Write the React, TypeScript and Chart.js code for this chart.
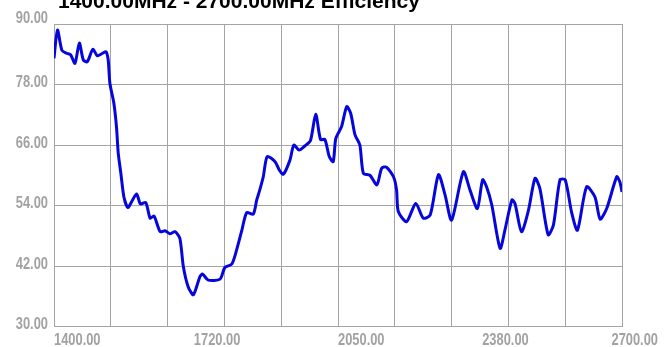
import React, { useEffect, useRef } from "react";
import { Chart, registerables } from "chart.js";

Chart.register(...registerables);

const TITLE = "1400.00MHz - 2700.00MHz Efficiency";

const freqs: number[] = [
  1400, 1408, 1418, 1429, 1438, 1448, 1458, 1467, 1476, 1489, 1499, 1511, 1519, 1524, 1528,
  1537, 1543, 1547, 1553, 1560, 1569, 1578, 1589, 1598, 1610, 1620, 1629, 1643, 1654, 1665,
  1677, 1688, 1696, 1707, 1719, 1734, 1740, 1753, 1780, 1791, 1807, 1818, 1830, 1841, 1856,
  1864, 1871, 1879, 1888, 1906, 1916, 1925, 1940, 1949, 1961, 1974, 1987, 1999, 2010, 2020,
  2030, 2039, 2045, 2058, 2070, 2079, 2089, 2100, 2108, 2123, 2139, 2150, 2161, 2177, 2184,
  2188, 2207, 2228, 2245, 2261, 2280, 2295, 2310, 2337, 2352, 2369, 2381, 2390, 2402, 2421,
  2432, 2448, 2455, 2470, 2486, 2501, 2512, 2531, 2543, 2558, 2570, 2585, 2598, 2619, 2638,
  2650, 2665, 2688, 2695, 2700,
];

const efficiency: number[] = [
  83.2, 88.8, 84.8, 84.2, 83.9, 82.2, 86.2, 82.9, 82.5, 85.0, 83.7, 84.2, 84.5, 82.9, 78.2,
  74.3, 69.6, 64.4, 60.4, 55.7, 53.6, 54.8, 56.3, 54.3, 54.6, 51.5, 51.9, 48.8, 49.0, 48.4,
  48.8, 47.5, 41.9, 37.9, 36.3, 39.9, 40.4, 39.2, 39.4, 41.7, 42.4, 45.2, 49.1, 52.6, 52.3,
  55.1, 57.1, 59.7, 63.7, 62.7, 61.0, 60.2, 63.0, 66.0, 65.0, 65.8, 66.9, 72.1, 67.1, 67.1,
  63.7, 62.7, 67.3, 69.6, 73.6, 72.3, 68.0, 66.0, 60.4, 60.0, 58.1, 61.4, 61.6, 59.7, 57.1,
  52.8, 50.8, 54.4, 51.5, 52.1, 60.1, 56.1, 51.1, 60.7, 57.1, 53.4, 59.1, 57.7, 54.1, 45.5,
  49.1, 55.1, 54.4, 48.8, 53.1, 59.4, 57.4, 48.2, 50.1, 59.1, 59.1, 52.5, 49.1, 57.7, 55.7,
  51.3, 53.4, 59.7, 58.7, 56.7,
];

const xMin = 1400;
const xMax = 2700;
const xGridStep = 130;
const xLabelValues: number[] = [1400, 1720, 2050, 2380, 2700];

const yMin = 30;
const yMax = 90;
const yStep = 12;
const yLabelValues: number[] = [90, 78, 66, 54, 42, 30];

const AXIS_FONT = 'bold 16.5px "Liberation Sans", Arial, sans-serif';
const AXIS_SQUEEZE = 0.78;
const TITLE_FONT = 'bold 21px "Liberation Sans", Arial, sans-serif';
const LABEL_COLOR = "#a2a2a2";
const GRID_COLOR = "#a4a4a4";

function drawSqueezed(ctx: CanvasRenderingContext2D, text: string, x: number, y: number, align: "left" | "right") {
  ctx.save();
  ctx.translate(x, y);
  ctx.scale(AXIS_SQUEEZE, 1);
  ctx.textAlign = align;
  ctx.fillText(text, 0, 0);
  ctx.restore();
}

const axisTextPlugin = {
  id: "axisText",
  afterDraw(chart: any) {
    const { ctx, chartArea, scales } = chart;
    ctx.save();
    ctx.font = TITLE_FONT;
    ctx.fillStyle = "#000";
    ctx.textAlign = "left";
    ctx.textBaseline = "alphabetic";
    ctx.fillText(TITLE, chartArea.left + 4, chartArea.top - 16);

    ctx.font = AXIS_FONT;
    ctx.fillStyle = LABEL_COLOR;
    yLabelValues.forEach((v) => {
      const y = scales.y.getPixelForValue(v);
      const base = v === yMax ? y - 1 : y + 2.5;
      drawSqueezed(ctx, v.toFixed(2), chartArea.left - 6, base, "right");
    });

    xLabelValues.forEach((v) => {
      const text = v.toFixed(2);
      const w = ctx.measureText(text).width * AXIS_SQUEEZE;
      let x = scales.x.getPixelForValue(v);
      x = Math.min(x, chartArea.right + 36 - w);
      drawSqueezed(ctx, text, x, chartArea.bottom + 18.5, "left");
    });
    ctx.restore();
  },
};

export default function App() {
  const canvasRef = useRef<HTMLCanvasElement | null>(null);

  useEffect(() => {
    document.body.style.margin = "0";
    if (!canvasRef.current) return;
    const chart = new Chart(canvasRef.current, {
      type: "line",
      data: {
        datasets: [
          {
            data: freqs.map((f, i) => ({ x: f, y: efficiency[i] })),
            borderColor: "#0606dc",
            borderWidth: 3,
            pointRadius: 0,
            tension: 0.25,
            fill: false,
          },
        ],
      },
      options: {
        animation: false,
        responsive: true,
        maintainAspectRatio: false,
        layout: { padding: { top: 24, right: 49, left: 0, bottom: 0 } },
        plugins: {
          legend: { display: false },
          tooltip: { enabled: false },
          title: { display: false },
        },
        scales: {
          x: {
            type: "linear",
            min: xMin,
            max: xMax,
            ticks: { stepSize: xGridStep, display: false },
            grid: { color: GRID_COLOR, drawTicks: false, lineWidth: 1 },
            border: { color: GRID_COLOR },
            afterFit: (s: any) => {
              s.height = 20.5;
            },
          },
          y: {
            type: "linear",
            min: yMin,
            max: yMax,
            ticks: { stepSize: yStep, display: false },
            grid: { color: GRID_COLOR, drawTicks: false, lineWidth: 1 },
            border: { color: GRID_COLOR },
            afterFit: (s: any) => {
              s.width = 54;
            },
          },
        },
      },
      plugins: [axisTextPlugin],
    });
    return () => chart.destroy();
  }, []);

  return (
    <div style={{ width: 671, height: 347 }}>
      <canvas ref={canvasRef} />
    </div>
  );
}
